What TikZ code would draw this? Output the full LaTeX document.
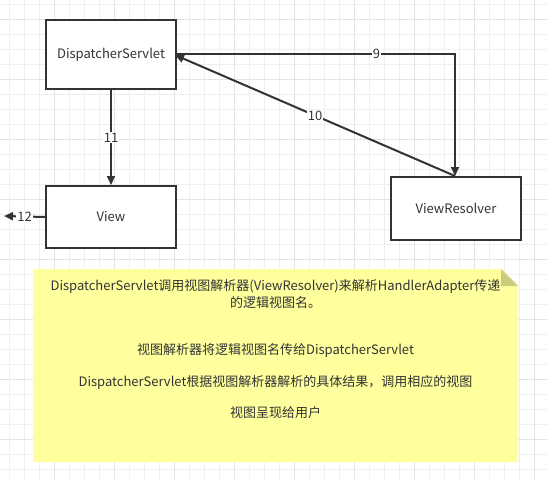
\documentclass[tikz,border=0pt]{standalone}
\usepackage{fontspec}
\setmainfont{Noto Sans CJK SC}
\usetikzlibrary{arrows.meta}
\definecolor{txt}{HTML}{333333}
\definecolor{ln}{HTML}{333333}
\definecolor{gridminor}{HTML}{EFEFEF}
\definecolor{gridmajor}{HTML}{E3E3E3}
\definecolor{notefill}{HTML}{FFFF9E}
\definecolor{notefold}{HTML}{CCCC7E}
\begin{document}
\begin{tikzpicture}[x=1pt,y=-1pt,
  font=\fontsize{13}{16}\selectfont, text=txt,
  box/.style={draw=ln, line width=2pt, fill=white, minimum width=130pt, anchor=north west, inner sep=0pt},
  conn/.style={draw=ln, line width=2pt, -{Triangle[length=9pt,width=8pt]}},
  lab/.style={fill=white, inner sep=1pt, font=\fontsize{13}{15}\selectfont},
  notetxt/.style={font=\fontsize{13}{16}\selectfont, align=center, inner sep=0pt}]
\useasboundingbox (0,0) rectangle (547,479);
\fill[white] (0,0) rectangle (547,479);
% grid
\foreach \i in {0,...,36} {
  \pgfmathsetmacro\xx{9.5+15*\i}
  \draw[gridminor, line width=0.8pt] (\xx,0) -- (\xx,479);
}
\foreach \i in {0,...,31} {
  \pgfmathsetmacro\yy{4+15*\i}
  \draw[gridminor, line width=0.8pt] (0,\yy) -- (547,\yy);
}
\foreach \i in {0,...,9} {
  \pgfmathsetmacro\xx{54.5+60*\i}
  \draw[gridmajor, line width=0.8pt] (\xx,0) -- (\xx,479);
}
\foreach \i in {0,...,7} {
  \pgfmathsetmacro\yy{19+60*\i}
  \draw[gridmajor, line width=0.8pt] (0,\yy) -- (547,\yy);
}
% nodes
\node[box, minimum height=69pt] (ds) at (45,19) {DispatcherServlet};
\node[box, minimum height=62pt] (view) at (45,185) {View};
\node[box, minimum height=63pt] (vr) at (390,176) {ViewResolver};
\coordinate (dsr9) at (175,54);
\coordinate (vrt) at (455,176);
\coordinate (out12) at (4,216);
% connectors
\draw[conn] (dsr9) -- (455,54) node[lab, pos=0.72] {9} -- (vrt);
\draw[conn] (vrt) -- (175,55) node[lab, pos=0.5] {10};
\draw[conn] (ds.south) -- (view.north) node[lab, midway] {11};
\draw[conn] (view.west) -- (out12) node[lab, midway] {12};
% note
\fill[notefill] (33,269) -- (501,269) -- (518,286) -- (518,462) -- (33,462) -- cycle;
\fill[notefold] (501,269) -- (501,286) -- (518,286) -- cycle;
\node[notetxt] (n1) at (275.5,287) {DispatcherServlet调用视图解析器(ViewResolver)来解析HandlerAdapter传递};
\node[notetxt] (n2) at (275.5,303) {的逻辑视图名。};
\node[notetxt] (n3) at (275.5,351) {视图解析器将逻辑视图名传给DispatcherServlet};
\node[notetxt] (n4) at (275.5,382) {DispatcherServlet根据视图解析器解析的具体结果，调用相应的视图};
\node[notetxt] (n5) at (275.5,413) {视图呈现给用户};
\end{tikzpicture}
\end{document}
